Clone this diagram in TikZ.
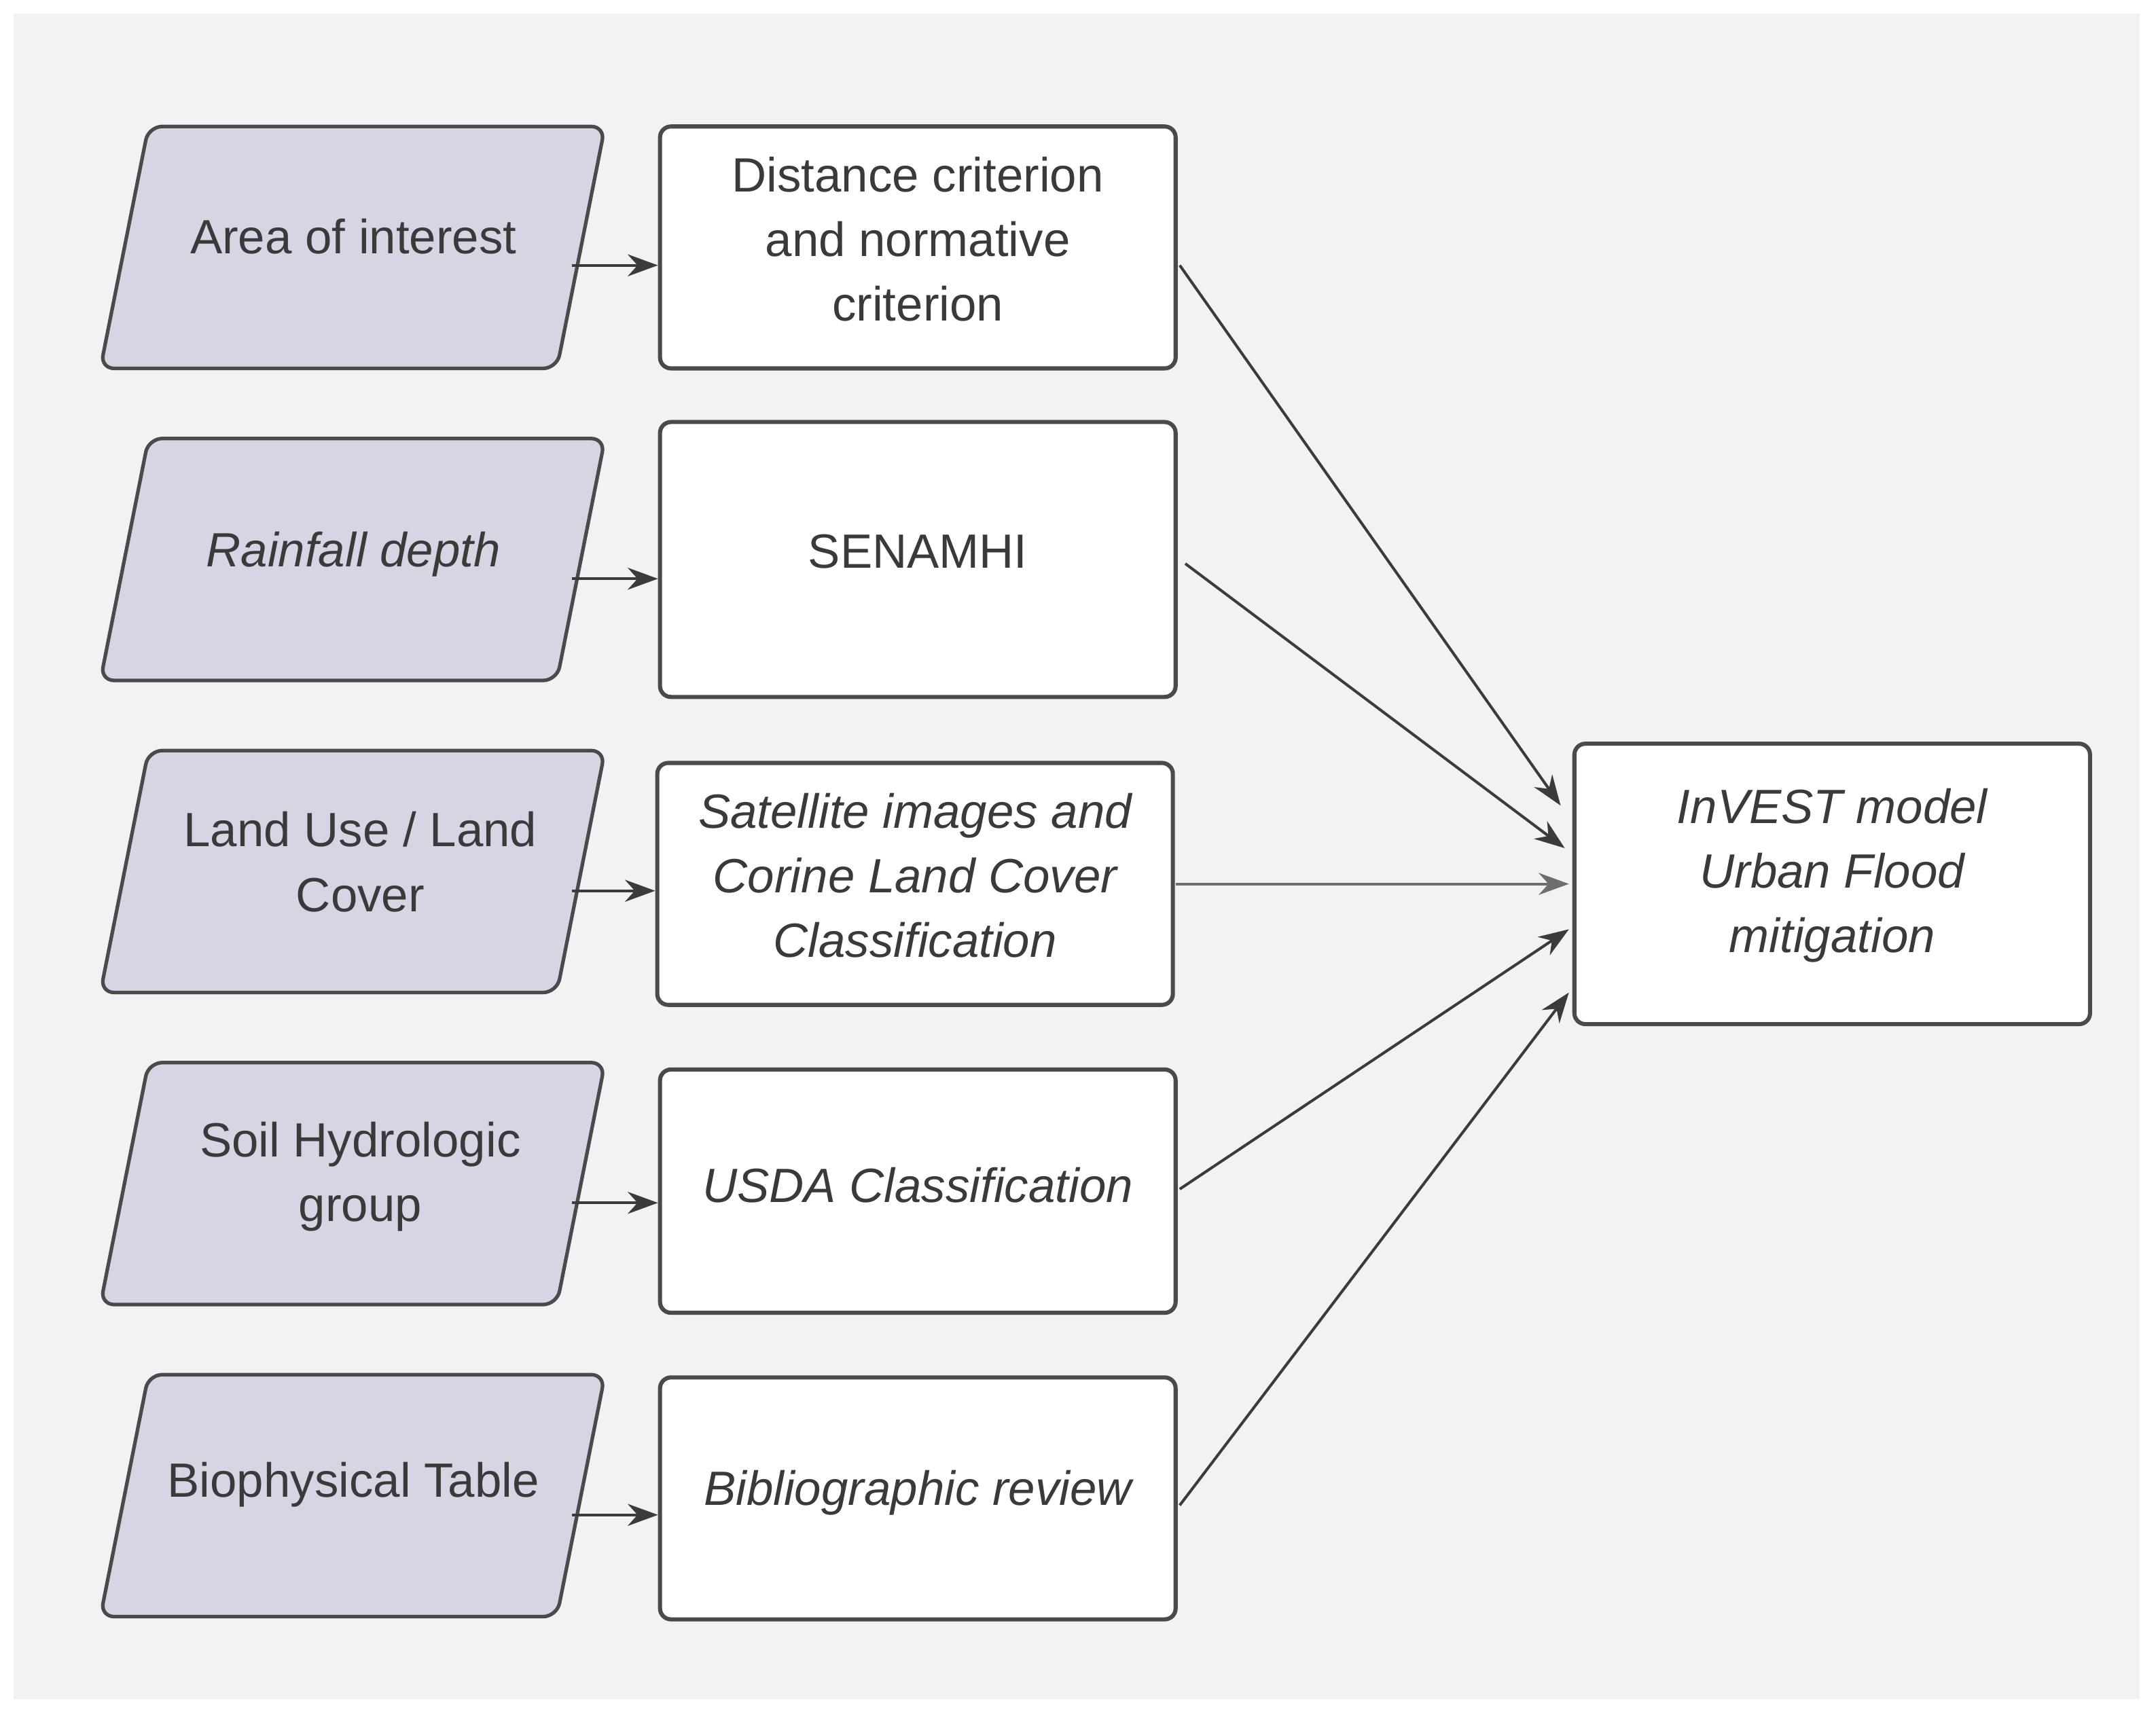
\documentclass[tikz,border=0pt]{standalone}
\usepackage{fontspec}
\setmainfont{Liberation Sans}
\usetikzlibrary{arrows.meta}
\definecolor{bg}{HTML}{F1F2F4}
\definecolor{pf}{HTML}{D7D5E3}
\definecolor{ln}{HTML}{4A4A4A}
\definecolor{tx}{HTML}{3A3A3A}
\begin{document}
\begin{tikzpicture}[x=1pt,y=-1pt,
  para/.style={draw=ln,fill=pf,line width=2.6pt,rounded corners=10pt},
  txt/.style={text=tx,align=center,font=\fontsize{35}{47}\selectfont},
  itx/.style={txt,font=\fontsize{35}{47}\selectfont\itshape},
  box/.style={draw=ln,fill=white,line width=3pt,rounded corners=8pt},
  arr/.style={draw=ln!80!black,line width=2pt,-{Stealth[length=22pt,width=16pt]}}]
\useasboundingbox (0,0) rectangle (1568,1245);
\fill[bg] (10,10) rectangle (1556,1236);
% parallelograms
\foreach \i in {0,...,4}{
  \pgfmathsetmacro\yt{92+227*\i}
  \pgfmathsetmacro\yb{\yt+176}
  \draw[para] (108,\yt) -- (440,\yt) -- (405,\yb) -- (73,\yb) -- cycle;
}
\node[txt] (p1) at (257,172) {Area of interest};
\node[itx] (p2) at (257,403) {Rainfall depth};
\node[txt] (p3) at (262,627) {Land Use / Land\\Cover};
\node[txt] (p4) at (262,856) {Soil Hydrologic\\group};
\node[txt] (p5) at (257,1080) {Biophysical Table};
\coordinate (s1) at (416,193);
\coordinate (s2) at (416,421);
\coordinate (s3) at (416,648);
\coordinate (s4) at (416,875);
\coordinate (s5) at (416,1102);
% boxes
\node[box,minimum width=375pt,minimum height=176pt] (b1) at (667.5,180) {};
\node[txt] at (667.5,174) {Distance criterion\\and normative\\criterion};
\node[box,minimum width=375pt,minimum height=200pt] (b2) at (667.5,407) {};
\node[txt] at (667.5,401) {SENAMHI};
\node[box,minimum width=375pt,minimum height=176pt] (b3) at (665.5,643) {};
\node[itx] at (665.5,637) {Satellite images and\\Corine Land Cover\\Classification};
\node[box,minimum width=375pt,minimum height=177pt] (b4) at (667.5,866.5) {};
\node[itx] at (667.5,862) {USDA Classification};
\node[box,minimum width=375pt,minimum height=176pt] (b5) at (667.5,1090) {};
\node[itx] at (667.5,1086) {Bibliographic review};
\node[box,minimum width=375pt,minimum height=204pt] (t) at (1332.5,643) {};
\node[itx] at (1332.5,637) {InVEST model\\Urban Flood\\mitigation};
% arrows in
\draw[arr] (s1) -- (s1 -| b1.west);
\draw[arr] (s2) -- (s2 -| b2.west);
\draw[arr] (s3) -- (s3 -| b3.west);
\draw[arr] (s4) -- (s4 -| b4.west);
\draw[arr] (s5) -- (s5 -| b5.west);
% arrows to target
\coordinate (e1) at (858,193); \coordinate (e2) at (862,410);
\coordinate (e3) at (855,643); \coordinate (e4) at (858,865); \coordinate (e5) at (858,1095);
\coordinate (t1) at (1135,586); \coordinate (t2) at (1138,617); \coordinate (t3) at (1141,643);
\coordinate (t4) at (1141,676); \coordinate (t5) at (1141,722);
\draw[arr] (e1) -- (t1);
\draw[arr] (e2) -- (t2);
\draw[arr,draw=ln!80] (e3) -- (t3);
\draw[arr] (e4) -- (t4);
\draw[arr] (e5) -- (t5);
\end{tikzpicture}
\end{document}
